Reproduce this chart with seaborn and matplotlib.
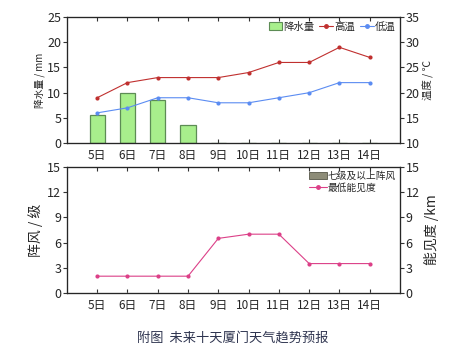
import numpy as np
import pandas as pd
import matplotlib
matplotlib.use('Agg')
import matplotlib.pyplot as plt
from matplotlib.patches import Patch
from matplotlib.lines import Line2D
import seaborn as sns

sns.set_style('white')
plt.rcParams['font.family'] = ['Noto Sans CJK SC', 'DejaVu Sans']
plt.rcParams['axes.unicode_minus'] = False

# data
days = ['5日', '6日', '7日', '8日', '9日', '10日', '11日', '12日', '13日', '14日']
rain = [5.5, 10, 8.5, 3.5, 0, 0, 0, 0, 0, 0]
t_high = [19, 22, 23, 23, 23, 24, 26, 26, 29, 27]
t_low = [16, 17, 19, 19, 18, 18, 19, 20, 22, 22]
gust = [0, 0, 0, 0, 0, 0, 0, 0, 0, 0]
vis = [2, 2, 2, 2, 6.5, 7, 7, 3.5, 3.5, 3.5]

x = np.arange(len(days))
df = pd.DataFrame({'x': x, 'day': days, 'rain': rain, 'high': t_high,
                   'low': t_low, 'gust': gust, 'vis': vis})

c_bar = '#a8ef8c'
c_bar_edge = '#5d8c55'
c_high = '#c0302f'
c_low = '#5b8cf2'
c_vis = '#dc4088'
c_gust = '#8d8c78'
fs = 8

fig = plt.figure(figsize=(4.52, 3.56), dpi=100)
ax1 = fig.add_axes([0.148, 0.598, 0.737, 0.354])
ax3 = fig.add_axes([0.148, 0.177, 0.737, 0.354])


def style(ax, twin):
    for s in ax.spines.values():
        s.set_color('#333333')
        s.set_linewidth(0.9)
    ax.set_xlim(-1, 10)
    ax.set_xticks(x)
    ax.set_xticklabels(days)
    ax.tick_params(axis='x', direction='in', top=True, bottom=True,
                   length=3, labelsize=fs + 0.5, pad=4, color='#333333')
    ax.tick_params(axis='y', direction='out', length=3, labelsize=fs + 1,
                   pad=1, color='#333333')
    twin.tick_params(axis='y', direction='out', length=3, labelsize=fs + 1,
                     pad=1, color='#333333')
    twin.set_xlim(-1, 10)


# --- top panel: rain + temperature
sns.barplot(data=df, x='x', y='rain', ax=ax1, color=c_bar, width=0.5,
            edgecolor=c_bar_edge, linewidth=0.9, saturation=1)
ax1.set_ylim(0, 25)
ax1.set_yticks([0, 5, 10, 15, 20, 25])
ax1.set_xlabel('')
ax1.set_ylabel('降水量 / mm', fontsize=7, labelpad=2)

ax2 = ax1.twinx()
sns.lineplot(data=df, x='x', y='high', ax=ax2, color=c_high, marker='o',
             markersize=3, markeredgewidth=0, linewidth=0.8)
sns.lineplot(data=df, x='x', y='low', ax=ax2, color=c_low, marker='o',
             markersize=3, markeredgewidth=0, linewidth=0.8)
ax2.set_ylim(10, 35)
ax2.set_yticks([10, 15, 20, 25, 30, 35])
ax2.set_ylabel('温度 / ℃', fontsize=7.5, labelpad=2)
style(ax1, ax2)

h_top = [Patch(facecolor=c_bar, edgecolor=c_bar_edge, linewidth=0.8),
         Line2D([], [], color=c_high, marker='o', markersize=2.5, linewidth=0.8),
         Line2D([], [], color=c_low, marker='o', markersize=2.5, linewidth=0.8)]
ax2.legend(h_top, ['降水量', '高温', '低温'], loc='upper right', ncol=3,
           frameon=False, fontsize=7.5, handlelength=1.3, handletextpad=0.15,
           columnspacing=0.45, borderaxespad=0.2, borderpad=0.2)

# --- bottom panel: gust + visibility
sns.barplot(data=df, x='x', y='gust', ax=ax3, color=c_gust, width=0.5,
            saturation=1)
ax3.set_ylim(0, 15)
ax3.set_yticks([0, 3, 6, 9, 12, 15])
ax3.set_xlabel('')
ax3.set_ylabel('阵风 / 级', fontsize=10, labelpad=3)

ax4 = ax3.twinx()
sns.lineplot(data=df, x='x', y='vis', ax=ax4, color=c_vis, marker='o',
             markersize=3, markeredgewidth=0, linewidth=0.8)
ax4.set_ylim(0, 15)
ax4.set_yticks([0, 3, 6, 9, 12, 15])
ax4.set_ylabel('能见度 /km', fontsize=10, labelpad=3)
style(ax3, ax4)

h_bot = [Patch(facecolor=c_gust, edgecolor='#555548', linewidth=0.6),
         Line2D([], [], color=c_vis, marker='o', markersize=2.5, linewidth=0.8)]
ax4.legend(h_bot, ['七级及以上阵风', '最低能见度'], loc='upper right',
           frameon=False, fontsize=7, handlelength=1.8, handletextpad=0.1,
           labelspacing=0.2, borderaxespad=0.2, borderpad=0.2)

fig.text(0.515, 0.05, '附图  未来十天厦门天气趋势预报', ha='center',
         va='center', fontsize=9.5, color='#2f3550')

fig.savefig('out.png', dpi=100)
